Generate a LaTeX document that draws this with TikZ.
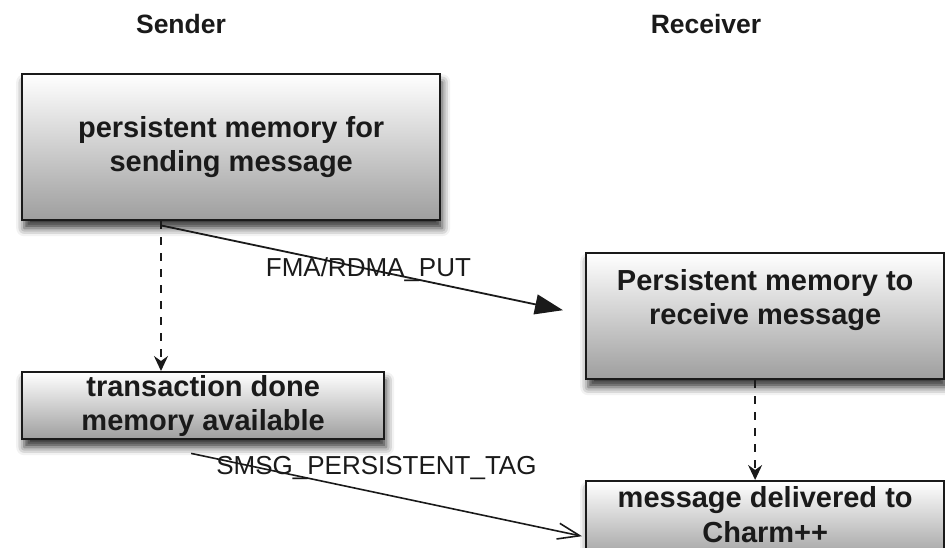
\documentclass[tikz,border=0pt]{standalone}
\usepackage{fontspec}
\setmainfont{Liberation Sans}
\usetikzlibrary{arrows.meta,calc,shadows.blur}
\definecolor{ink}{HTML}{1A1A1A}
\begin{document}
\begin{tikzpicture}[x=1pt,y=-1pt,
  stagebox/.style={draw=ink, line width=2.4pt, top color=white, bottom color=black!38,
    blur shadow={shadow xshift=2pt, shadow yshift=-8pt, shadow blur radius=8pt, shadow opacity=80},
    font=\fontsize{29}{34}\selectfont\bfseries, text=ink, align=center,
    anchor=north west, inner sep=0pt},
  header/.style={font=\fontsize{26.5}{30}\selectfont\bfseries, text=ink},
  flowlabel/.style={font=\fontsize{26}{30}\selectfont, text=ink},
  waitline/.style={draw=ink, line width=1.8pt, dash pattern=on 8pt off 8pt,
    -{Stealth[length=15pt,width=14pt,inset=5pt]}},
  putline/.style={draw=ink, line width=1.8pt, -{Triangle[length=28pt,width=20pt]}},
  tagline/.style={draw=ink, line width=1.6pt, -{Straight Barb[length=22pt,width=16pt,line width=1.6pt]}}
]
\useasboundingbox (0,0) rectangle (945,547);
\clip (0,0) rectangle (945,547);

% column headings
\node[header] (sender)   at (181,24) {Sender};
\node[header] (receiver) at (706,24) {Receiver};

% sender side
\node[stagebox, minimum width=418pt, minimum height=146pt] (sendmem) at (21,73)
  {persistent memory for\\sending message};
\node[stagebox, minimum width=362pt, minimum height=67pt] (txdone) at (21,371)
  {transaction done\\memory available};

% receiver side
\node[stagebox, minimum width=358pt, minimum height=126pt] (recvmem) at (585,252)
  {\raisebox{16pt}[\height][\depth]{\begin{tabular}{@{}c@{}}Persistent memory to\\receive message\end{tabular}}};
\node[stagebox, minimum width=358pt, minimum height=80pt] (deliver) at (585,480)
  {\raisebox{3pt}[\height][\depth]{\begin{tabular}{@{}c@{}}message delivered to\\[1pt]Charm++\end{tabular}}};

% attachment points on the box edges
\coordinate (sendfoot) at ($(sendmem.south west)!0.333!(sendmem.south east)$);
\coordinate (txfoot)   at ($(txdone.south west)!0.467!(txdone.south east)$);
\coordinate (recvfoot) at ($(recvmem.south west)!0.472!(recvmem.south east)$);

% local completion on each side
\draw[waitline] (sendfoot) -- (sendfoot |- txdone.north);
\draw[waitline] (recvfoot) -- (recvfoot |- deliver.north);

% data transfer and notification
\draw[putline] ([yshift=-4pt]sendfoot) --
  node[flowlabel, pos=0.516] {FMA/RDMA\_PUT}
  ([xshift=-22pt,yshift=6pt]recvmem.west);
\draw[tagline] ([yshift=-13pt]txfoot) --
  node[flowlabel, pos=0.474, yshift=25pt] {SMSG\_PERSISTENT\_TAG}
  ([xshift=-3pt,yshift=-15pt]deliver.west);
\end{tikzpicture}
\end{document}
